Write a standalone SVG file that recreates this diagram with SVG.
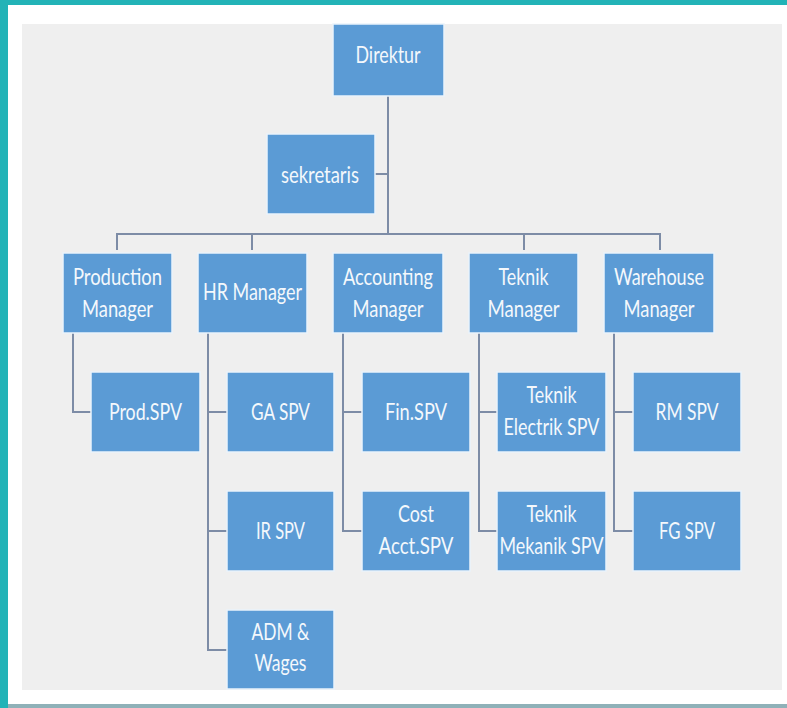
<svg xmlns="http://www.w3.org/2000/svg" width="787" height="708" viewBox="0 0 787 708">
<style>
.box{fill:#5b9bd5;stroke:#eaf3fb;stroke-width:1.5}
.t{font-family:Lato,"Liberation Sans",sans-serif;font-size:24px;fill:#f4f8fc;text-anchor:middle}
.c{fill:none;stroke:#7d8ca6;stroke-width:2}
</style>
<rect x="0" y="0" width="787" height="708" fill="#22b3b7"/>
<rect x="8" y="5" width="779" height="699" fill="#ffffff"/>
<rect x="8" y="704" width="779" height="4" fill="#8fb1b8"/>
<rect x="22" y="24" width="760" height="666" fill="#efefef"/>
<g id="connectors">
<path class="c" d="M388 96V234M375 174H388M117 250V234H660V250M252 234V250M524 234V250"/>
<path class="c" d="M73 333V412H91"/>
<path class="c" d="M208 333V650H227M208 412H227M208 531H227"/>
<path class="c" d="M343 333V531H362M343 412H362"/>
<path class="c" d="M479 333V531H497M479 412H497"/>
<path class="c" d="M614 333V531H633M614 412H633"/>
</g>
<g id="direktur"><rect class="box" x="333" y="24" width="111" height="72"/><text class="t" x="388" y="63" textLength="65" lengthAdjust="spacingAndGlyphs">Direktur</text></g>
<g id="sekretaris"><rect class="box" x="267" y="134" width="108" height="80"/><text class="t" x="320" y="183" textLength="78" lengthAdjust="spacingAndGlyphs">sekretaris</text></g>
<g id="production-manager"><rect class="box" x="63" y="253" width="109" height="80"/><text class="t" x="117.5" y="285" textLength="89" lengthAdjust="spacingAndGlyphs">Production</text><text class="t" x="117.5" y="317" textLength="71" lengthAdjust="spacingAndGlyphs">Manager</text></g>
<g id="hr-manager"><rect class="box" x="198" y="253" width="109" height="80"/><text class="t" x="252.5" y="300" textLength="99" lengthAdjust="spacingAndGlyphs">HR Manager</text></g>
<g id="accounting-manager"><rect class="box" x="333" y="253" width="110" height="80"/><text class="t" x="388" y="285" textLength="90" lengthAdjust="spacingAndGlyphs">Accounting</text><text class="t" x="388" y="317" textLength="71" lengthAdjust="spacingAndGlyphs">Manager</text></g>
<g id="teknik-manager"><rect class="box" x="469" y="253" width="109" height="80"/><text class="t" x="523.5" y="285" textLength="50" lengthAdjust="spacingAndGlyphs">Teknik</text><text class="t" x="523.5" y="317" textLength="72" lengthAdjust="spacingAndGlyphs">Manager</text></g>
<g id="warehouse-manager"><rect class="box" x="604" y="253" width="110" height="80"/><text class="t" x="659" y="285" textLength="90" lengthAdjust="spacingAndGlyphs">Warehouse</text><text class="t" x="659" y="317" textLength="71" lengthAdjust="spacingAndGlyphs">Manager</text></g>
<g id="prod-spv"><rect class="box" x="91" y="372" width="109" height="80"/><text class="t" x="145.5" y="420" textLength="73" lengthAdjust="spacingAndGlyphs">Prod.SPV</text></g>
<g id="ga-spv"><rect class="box" x="227" y="372" width="107" height="80"/><text class="t" x="280.5" y="420" textLength="59" lengthAdjust="spacingAndGlyphs">GA SPV</text></g>
<g id="fin-spv"><rect class="box" x="362" y="372" width="108" height="80"/><text class="t" x="416" y="420" textLength="62" lengthAdjust="spacingAndGlyphs">Fin.SPV</text></g>
<g id="teknik-electrik-spv"><rect class="box" x="497" y="372" width="109" height="80"/><text class="t" x="551.5" y="403" textLength="50" lengthAdjust="spacingAndGlyphs">Teknik</text><text class="t" x="551.5" y="435" textLength="96" lengthAdjust="spacingAndGlyphs">Electrik SPV</text></g>
<g id="rm-spv"><rect class="box" x="633" y="372" width="108" height="80"/><text class="t" x="687" y="420" textLength="63" lengthAdjust="spacingAndGlyphs">RM SPV</text></g>
<g id="ir-spv"><rect class="box" x="227" y="491" width="107" height="80"/><text class="t" x="280.5" y="539" textLength="49" lengthAdjust="spacingAndGlyphs">IR SPV</text></g>
<g id="cost-acct-spv"><rect class="box" x="362" y="491" width="108" height="80"/><text class="t" x="416" y="522" textLength="36" lengthAdjust="spacingAndGlyphs">Cost</text><text class="t" x="416" y="554" textLength="75" lengthAdjust="spacingAndGlyphs">Acct.SPV</text></g>
<g id="teknik-mekanik-spv"><rect class="box" x="497" y="491" width="109" height="80"/><text class="t" x="551.5" y="522" textLength="50" lengthAdjust="spacingAndGlyphs">Teknik</text><text class="t" x="551.5" y="554" textLength="104" lengthAdjust="spacingAndGlyphs">Mekanik SPV</text></g>
<g id="fg-spv"><rect class="box" x="633" y="491" width="108" height="80"/><text class="t" x="687" y="539" textLength="56" lengthAdjust="spacingAndGlyphs">FG SPV</text></g>
<g id="adm-wages"><rect class="box" x="227" y="610" width="107" height="79"/><text class="t" x="280.5" y="640" textLength="58" lengthAdjust="spacingAndGlyphs">ADM &amp;</text><text class="t" x="280.5" y="671" textLength="52" lengthAdjust="spacingAndGlyphs">Wages</text></g>
</svg>
